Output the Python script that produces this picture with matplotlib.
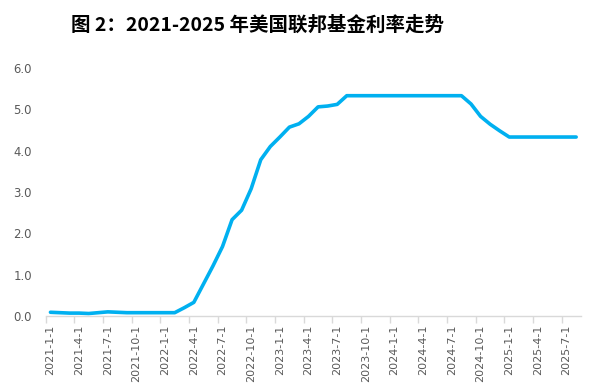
import matplotlib.pyplot as plt

plt.rcParams['font.family'] = ['DejaVu Sans']

# monthly federal funds rate, 2021-01 .. 2025-08
months = [f"{y}-{m}-1" for y in range(2021, 2026) for m in range(1, 13)][:56]
rates = [0.09, 0.08, 0.07, 0.07, 0.06, 0.08, 0.10, 0.09, 0.08, 0.08, 0.08, 0.08,
         0.08, 0.08, 0.20, 0.33, 0.77, 1.21, 1.68, 2.33, 2.56, 3.08, 3.78, 4.10,
         4.33, 4.57, 4.65, 4.83, 5.06, 5.08, 5.12, 5.33, 5.33, 5.33, 5.33, 5.33,
         5.33, 5.33, 5.33, 5.33, 5.33, 5.33, 5.33, 5.33, 5.13, 4.83, 4.64, 4.48,
         4.33, 4.33, 4.33, 4.33, 4.33, 4.33, 4.33, 4.33]
title = "图 2：2021-2025 年美国联邦基金利率走势"

fig = plt.figure(figsize=(5.94, 3.92), dpi=100)
ax = fig.add_axes([0.0769, 0.1939, 0.9011, 0.6326])

x = list(range(len(rates)))
ax.plot(x, rates, color='#00B0F0', linewidth=2.6, solid_capstyle='round', solid_joinstyle='round')

ax.set_xlim(-0.5, len(rates) - 0.5)
ax.set_ylim(0, 6)
ax.set_yticks([0, 1, 2, 3, 4, 5, 6])
ax.set_yticklabels([f"{v:.1f}" for v in range(7)])

lab_idx = list(range(0, len(months), 3))
ax.set_xticks(lab_idx)
ax.set_xticklabels([months[i] for i in lab_idx], rotation=90)
ax.set_xticks([i - 0.5 for i in lab_idx], minor=True)

ax.tick_params(axis='x', which='major', length=0, pad=6, labelsize=8, labelcolor='#595959')
ax.tick_params(axis='x', which='minor', length=5, color='#d9d9d9', width=1)
ax.tick_params(axis='y', length=0, pad=10, labelsize=8.4, labelcolor='#595959')

for s in ['top', 'right', 'left']:
    ax.spines[s].set_visible(False)
ax.spines['bottom'].set_color('#d9d9d9')
ax.spines['bottom'].set_linewidth(1)

fig.text(0.433, 0.935, title, ha='center', va='center', fontsize=14, fontweight='bold',
         family=['Noto Sans CJK SC', 'DejaVu Sans'], color='black')

fig.savefig('out.png', dpi=100)
